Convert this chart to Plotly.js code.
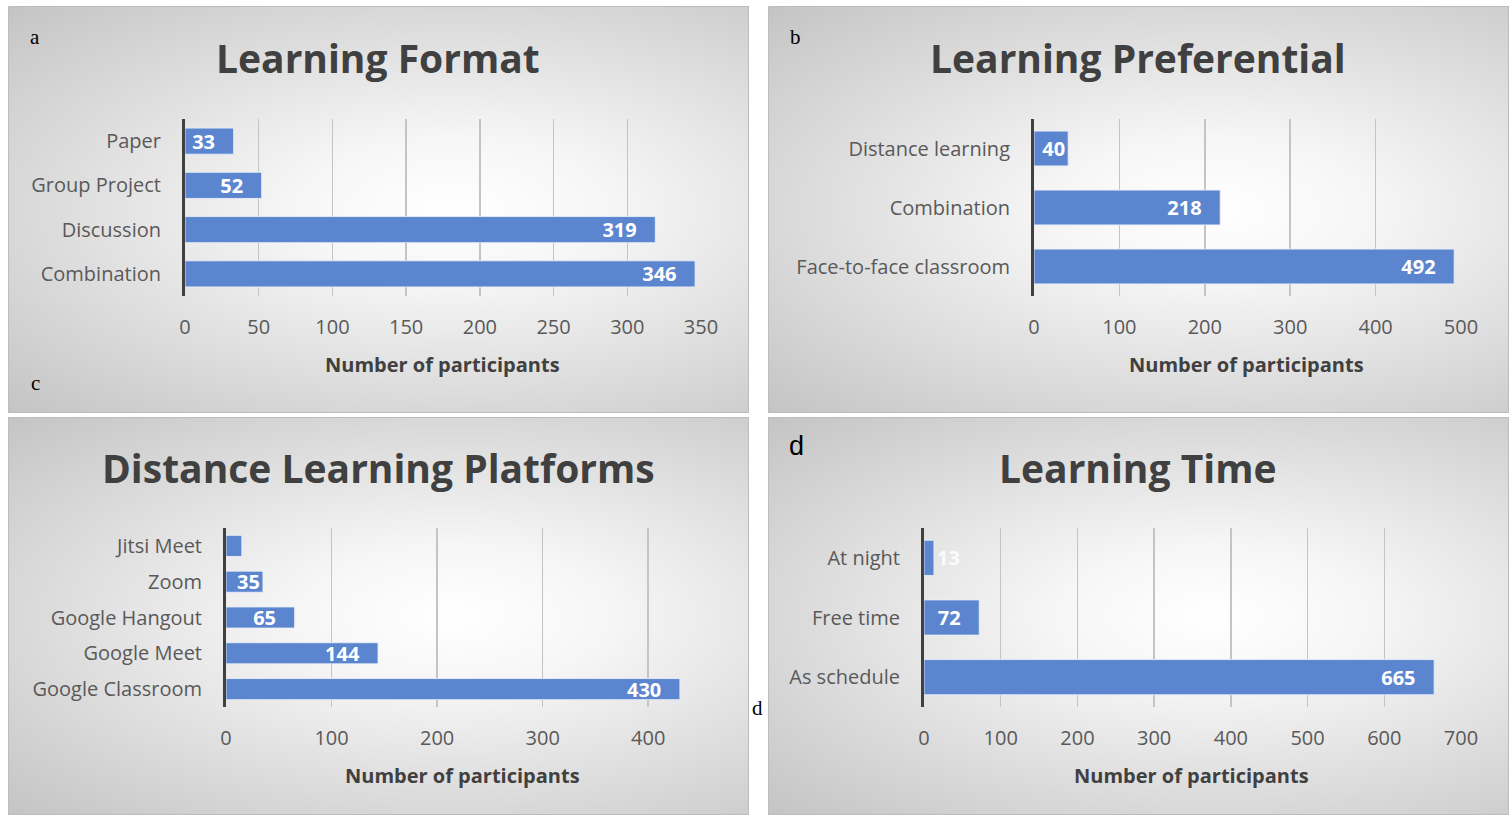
<!DOCTYPE html>
<html>
<head>
<meta charset="utf-8">
<script src="https://cdn.plot.ly/plotly-3.0.1.min.js"></script>
<style>
  html, body { margin: 0; padding: 0; background: #ffffff; }
  #wrap { position: relative; width: 1510px; height: 816px; overflow: hidden; }
  .panel { position: absolute; box-sizing: border-box; border: 1px solid #bdbdbd;
    background: radial-gradient(ellipse farthest-corner at 60% 50%, #ffffff 0%, #f6f6f6 25%, #c4c4c4 100%); }
  #chart { position: absolute; left: 0; top: 0; width: 1510px; height: 816px; }
</style>
</head>
<body>
<div id="wrap">
  <div class="panel" style="left:8px;top:6px;width:741px;height:407px;"></div>
  <div class="panel" style="left:768px;top:6px;width:741px;height:407px;"></div>
  <div class="panel" style="left:8px;top:417px;width:741px;height:398px;"></div>
  <div class="panel" style="left:768px;top:417px;width:741px;height:398px;"></div>
  <div id="chart"></div>
</div>
<script>
// ---- Data ----
const formatCategories = ["Paper", "Group Project", "Discussion", "Combination"];
const formatValues = [33, 52, 319, 346];
const formatLabels = ["33", "52", "319", "346"];

const preferentialCategories = ["Distance learning", "Combination", "Face-to-face classroom"];
const preferentialValues = [40, 218, 492];
const preferentialLabels = ["40", "218", "492"];

const platformCategories = ["Jitsi Meet", "Zoom", "Google Hangout", "Google Meet", "Google Classroom"];
const platformValues = [15, 35, 65, 144, 430];
const platformLabels = ["", "35", "65", "144", "430"];

const timeCategories = ["At night", "Free time", "As schedule"];
const timeValues = [13, 72, 665];
const timeLabels = ["13", "72", "665"];

const panelTitles = ["Learning Format", "Learning Preferential", "Distance Learning Platforms", "Learning Time"];
const axisTitle = "Number of participants";

// ---- Styling ----
const FONT = "'Open Sans', 'Noto Sans', sans-serif";
const BAR = "#5b86cf";
const W = 1510, H = 816;
const px = x => x / W;
const py = y => 1 - y / H;
const PAD = "\u00a0\u00a0\u00a0";

function barTrace(cats, vals, labels, xa, ya, minInside, rangeMax) {
  return {
    type: "bar", orientation: "h",
    x: vals, y: cats, xaxis: xa, yaxis: ya,
    marker: { color: BAR, line: { color: "rgba(235,240,250,0.85)", width: 1 } },
    text: labels.map((t, i) => (t && vals[i] / rangeMax > 0.085) ? t + PAD : t),
    textposition: vals.map(v => v < minInside ? "outside" : "inside"),
    insidetextanchor: "end",
    constraintext: "none",
    textangle: 0,
    cliponaxis: false,
    textfont: { family: FONT, size: 20, color: "#ffffff", weight: 700 },
    insidetextfont: { family: FONT, size: 20, color: "#ffffff", weight: 700 },
    outsidetextfont: { family: FONT, size: 20, color: "rgba(255,255,255,0.85)", weight: 700 },
    hoverinfo: "x+y",
    showlegend: false
  };
}

function xAxis(domain, range, dtick, anchor) {
  return {
    domain: domain, range: range, dtick: dtick, tick0: 0, anchor: anchor,
    showgrid: true, gridcolor: "#c4c4c4", gridwidth: 1.5,
    zeroline: false, showline: false,
    ticks: "outside", ticklen: 13, tickcolor: "rgba(0,0,0,0)",
    tickfont: { family: FONT, size: 20, color: "#595959" },
    fixedrange: true
  };
}
function yAxis(domain, anchor) {
  return {
    domain: domain, anchor: anchor, type: "category", autorange: "reversed",
    showgrid: false, zeroline: false,
    showline: true, linecolor: "#404040", linewidth: 3,
    ticks: "", ticklabelstandoff: 17,
    tickfont: { family: FONT, size: 20, color: "#595959" },
    fixedrange: true
  };
}

const data = [
  barTrace(formatCategories, formatValues, formatLabels, "x", "y", 20, 350),
  barTrace(preferentialCategories, preferentialValues, preferentialLabels, "x2", "y2", 20, 500),
  barTrace(platformCategories, platformValues, platformLabels, "x3", "y3", 25, 450),
  barTrace(timeCategories, timeValues, timeLabels, "x4", "y4", 30, 700)
];

const topY = [py(296), py(119)];
const botY = [py(707), py(528)];

const layout = {
  width: W, height: H,
  margin: { l: 0, r: 0, t: 0, b: 0 },
  paper_bgcolor: "rgba(0,0,0,0)", plot_bgcolor: "rgba(0,0,0,0)",
  bargap: 0.41,
  font: { family: FONT, color: "#595959" },
  xaxis: xAxis([px(185), px(701)], [0, 350], 50, "y"),
  yaxis: yAxis(topY, "x"),
  xaxis2: xAxis([px(1034), px(1461)], [0, 500], 100, "y2"),
  yaxis2: yAxis(topY, "x2"),
  xaxis3: xAxis([px(226), px(701)], [0, 450], 100, "y3"),
  yaxis3: yAxis(botY, "x3"),
  xaxis4: xAxis([px(924), px(1461)], [0, 700], 100, "y4"),
  yaxis4: yAxis(botY, "x4"),
  annotations: []
};

const titlePos = [[378, 58], [1138, 58], [378, 468], [1138, 468]];
const axTitlePos = [[442, 364], [1246, 364], [462, 775], [1191, 775]];
panelTitles.forEach((t, i) => {
  layout.annotations.push({
    text: t, xref: "paper", yref: "paper",
    x: px(titlePos[i][0]), y: py(titlePos[i][1]),
    xanchor: "center", yanchor: "middle", showarrow: false,
    font: { family: FONT, size: 39, color: "#404040", weight: 700 }
  });
  layout.annotations.push({
    text: axisTitle, xref: "paper", yref: "paper",
    x: px(axTitlePos[i][0]), y: py(axTitlePos[i][1]),
    xanchor: "center", yanchor: "middle", showarrow: false,
    font: { family: FONT, size: 20, color: "#404040", weight: 700 }
  });
});

// panel letters
const letters = [
  { t: "a", x: 35, y: 37, f: "'Liberation Serif', serif", s: 21 },
  { t: "b", x: 795, y: 37, f: "'Liberation Serif', serif", s: 21 },
  { t: "c", x: 35, y: 383, f: "'Liberation Serif', serif", s: 21 },
  { t: "d", x: 796, y: 446, f: "'Liberation Sans', Arial, sans-serif", s: 27 },
  { t: "d", x: 757, y: 708, f: "'Liberation Serif', serif", s: 21 }
];
letters.forEach(l => layout.annotations.push({
  text: l.t, xref: "paper", yref: "paper", x: px(l.x), y: py(l.y),
  xanchor: "center", yanchor: "middle", showarrow: false,
  font: { family: l.f, size: l.s, color: "#000000" }
}));

Plotly.newPlot("chart", data, layout, { displayModeBar: false, staticPlot: true });
</script>
</body>
</html>
